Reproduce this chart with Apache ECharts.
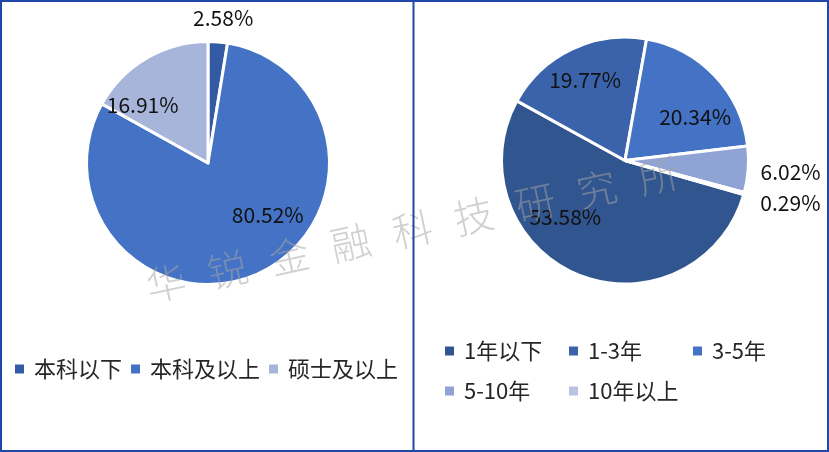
<!DOCTYPE html>
<html>
<head>
<meta charset="utf-8">
<script src="https://cdn.jsdelivr.net/npm/echarts@6/dist/echarts.min.js"></script>
<style>html,body{margin:0;padding:0;background:#fff;}#c{width:829px;height:452px;}</style>
</head>
<body>
<div id="c"></div>
<script>
// Left pie: education
const eduCategories = ['本科以下', '本科及以上', '硕士及以上'];
const eduValues = [2.58, 80.52, 16.91];
const eduColors = ['#335ba3', '#4472c4', '#a7b5db'];
// Right pie: years
const yearCategories = ['1年以下', '1-3年', '3-5年', '5-10年', '10年以上'];
const yearValues = [53.58, 19.77, 20.34, 6.02, 0.29];
const yearColors = ['#31558f', '#3b63ab', '#4472c4', '#8fa3d4', '#b8c3e3'];
const watermarkText = '华锐金融科技研究所';

// label offsets from default inside-label spot (styling only)
const eduLabelOffsets = [[10, -81], [32, -5], [-33, -3]];
const yearLabelOffsets = [[-35, -3], [-12, -22], [23, 1], [101, 7], [103, 25]];

const FONT = '"Noto Sans CJK SC", "Noto Sans", sans-serif';

const chart = echarts.init(document.getElementById('c'));

const wmChildren = watermarkText.split('').map((ch, i) => ({
  type: 'text',
  x: i * 63,
  y: 0,
  z: 15,
  silent: true,
  style: {
    text: ch,
    fill: 'rgba(165,165,165,0.52)',
    font: '300 40px ' + FONT,
    align: 'center',
    verticalAlign: 'middle'
  }
}));

function labelFmt(p) { return p.value.toFixed(2) + '%'; }

chart.setOption({
  animation: false,
  backgroundColor: '#fff',
  legend: [
    {
      data: eduCategories,
      left: 13,
      top: 358,
      padding: 0,
      orient: 'horizontal',
      itemWidth: 11,
      itemHeight: 11,
      itemGap: 7,
      icon: 'rect',
      selectedMode: false,
      textStyle: { fontFamily: FONT, fontSize: 22, color: '#262626', lineHeight: 22, padding: [0, 0, 0, 4] }
    },
    {
      data: yearCategories,
      left: 443,
      top: 338.5,
      padding: 0,
      width: 365,
      orient: 'horizontal',
      itemWidth: 11,
      itemHeight: 11,
      itemGap: 15,
      icon: 'rect',
      selectedMode: false,
      textStyle: { fontFamily: FONT, fontSize: 22, color: '#262626', lineHeight: 25, width: 88, padding: [0, 0, 0, 4] }
    }
  ],
  series: [
    {
      type: 'pie',
      center: [208, 163],
      radius: [0, 121.5],
      startAngle: 90,
      clockwise: true,
      avoidLabelOverlap: false,
      color: eduColors,
      data: eduCategories.map((n, i) => ({ name: n, value: eduValues[i] })),
      itemStyle: { borderColor: '#fff', borderWidth: 3 },
      label: { show: true, position: 'inside', formatter: labelFmt, fontFamily: FONT, fontSize: 21, color: '#111' },
      labelLine: { show: false },
      labelLayout: function (p) { const o = eduLabelOffsets[p.dataIndex]; return { dx: o[0], dy: o[1] }; },
      emphasis: { disabled: true },
      silent: true
    },
    {
      type: 'pie',
      center: [625, 160.5],
      radius: [0, 123.5],
      startAngle: -16,
      clockwise: true,
      avoidLabelOverlap: false,
      color: yearColors,
      data: yearCategories.map((n, i) => ({ name: n, value: yearValues[i] })),
      itemStyle: { borderColor: '#fff', borderWidth: 3 },
      label: { show: true, position: 'inside', formatter: labelFmt, fontFamily: FONT, fontSize: 21, color: '#111' },
      labelLine: { show: false },
      labelLayout: function (p) { const o = yearLabelOffsets[p.dataIndex]; return { dx: o[0], dy: o[1] }; },
      emphasis: { disabled: true },
      silent: true,
      minShowLabelAngle: 0
    }
  ],
  graphic: [
    {
      type: 'rect',
      shape: { x: 1, y: 1, width: 827, height: 450 },
      style: { fill: 'none', stroke: '#1f46a8', lineWidth: 2 },
      silent: true,
      z: 20
    },
    {
      type: 'line',
      shape: { x1: 413.5, y1: 0, x2: 413.5, y2: 452 },
      style: { stroke: '#1f46a8', lineWidth: 2 },
      silent: true,
      z: 20
    },
    {
      type: 'group',
      x: 166,
      y: 283,
      rotation: 12.3 * Math.PI / 180,
      children: wmChildren,
      silent: true,
      z: 15
    }
  ]
});
</script>
</body>
</html>
